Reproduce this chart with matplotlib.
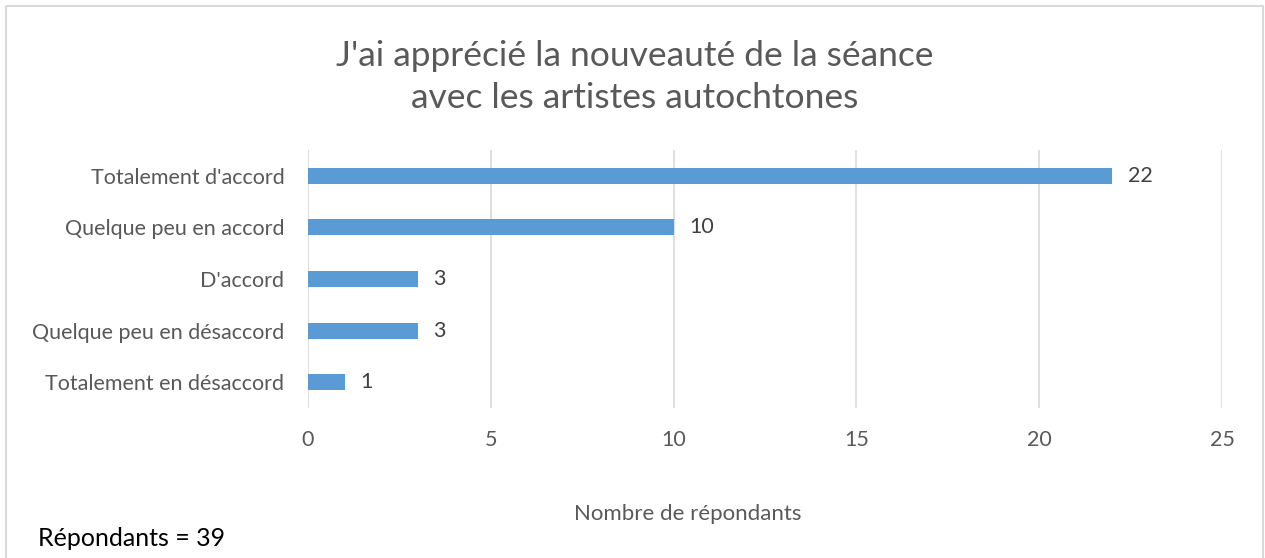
import matplotlib
matplotlib.use("Agg")
import matplotlib.pyplot as plt
from matplotlib.lines import Line2D

plt.rcParams['font.family'] = ['Lato', 'DejaVu Sans']

categories = ["Totalement en désaccord", "Quelque peu en désaccord", "D'accord",
              "Quelque peu en accord", "Totalement d'accord"]
values = [1, 3, 3, 10, 22]
xticks = [0, 5, 10, 15, 20, 25]
title = "J'ai apprécié la nouveauté de la séance\navec les artistes autochtones"
xlabel = "Nombre de répondants"
note = "Répondants = 39"

W, H = 1265, 558
fig = plt.figure(figsize=(W / 100, H / 100), dpi=100)
fig.patch.set_facecolor('white')

ax = fig.add_axes([308 / W, 1 - 408 / H, (1222 - 308) / W, (408 - 150) / H])
ypos = list(range(len(categories)))
ax.barh(ypos, values, height=0.31, color='#5B9BD5', zorder=3)
ax.set_xlim(0, 25)
ax.set_ylim(-0.5, len(categories) - 0.5)
ax.set_xticks(xticks)
ax.set_xticklabels([str(t) for t in xticks])
ax.set_yticks(ypos)
ax.set_yticklabels(categories)
ax.tick_params(axis='both', length=0, colors='#595959', labelsize=15.5)
ax.tick_params(axis='x', pad=16)
ax.tick_params(axis='y', pad=17)
ax.grid(axis='x', color='#D9D9D9', linewidth=1.2, zorder=0)
for s in ax.spines.values():
    s.set_visible(False)

for y, v in zip(ypos, values):
    ax.annotate(str(v), (v, y), xytext=(11, 0), textcoords='offset points',
                va='center', ha='left', fontsize=15.5, color='#404040')

fig.text(635 / W, 1 - 77 / H, title, ha='center', va='center', fontsize=25.5,
         color='#595959', linespacing=1.35)
fig.text(688 / W, 1 - 514 / H, xlabel, ha='center', va='center', fontsize=16,
         color='#595959')
fig.text(38 / W, 1 - 539 / H, note, ha='left', va='center', fontsize=18,
         color='black')

# chart border (left, top, right)
fig.add_artist(Line2D([6 / W, 6 / W, 1263 / W, 1263 / W],
                      [0, 1 - 6 / H, 1 - 6 / H, 0],
                      transform=fig.transFigure, color='#D9D9D9', linewidth=1.5))

fig.savefig("out.png", dpi=100, facecolor='white')
